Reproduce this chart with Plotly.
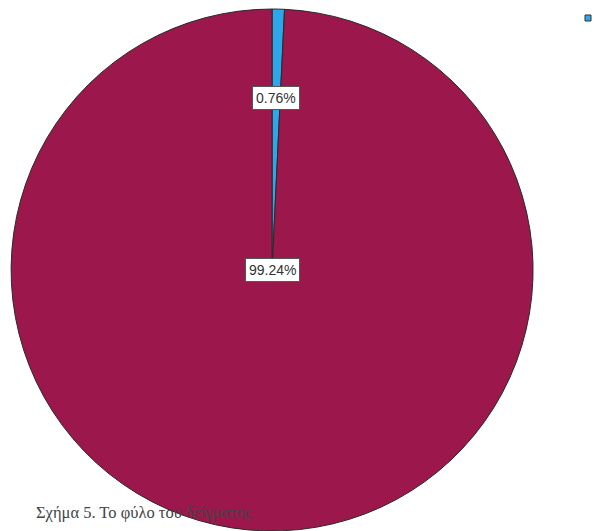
import math
import plotly.graph_objects as go

# Data
categories = ["Άνδρας", "Γυναίκα"]
values = [0.76, 99.24]
slice_colors = ["#2ea6ea", "#9c174b"]
caption = "Σχήμα 5. Το φύλο του δείγματος"

W, H = 608, 531
# pie domain (paper)
dom_x = [0.018, 0.877]
dom_y = [0.0, 0.983]
label_radius_frac = [0.66, 0.0]

fig = go.Figure(go.Pie(
    labels=categories,
    values=values,
    sort=False,
    direction="clockwise",
    rotation=0,
    textinfo="none",
    hoverinfo="label+percent",
    marker=dict(colors=slice_colors, line=dict(color="#2a2a2a", width=1)),
    domain=dict(x=dom_x, y=dom_y),
    showlegend=False,
))

# compute label positions from data
cx = (dom_x[0] + dom_x[1]) / 2
cy = (dom_y[0] + dom_y[1]) / 2
R = min((dom_x[1] - dom_x[0]) * W, (dom_y[1] - dom_y[0]) * H) / 2
total = sum(values)
cum = 0
annotations = []
for v, rf in zip(values, label_radius_frac):
    mid = (cum + v / 2) / total * 2 * math.pi
    cum += v
    r = rf * R
    x = cx + r * math.sin(mid) / W
    y = cy + r * math.cos(mid) / H
    annotations.append(dict(
        x=x, y=y, xref="paper", yref="paper",
        xanchor="center", yanchor="middle",
        text=f"{v:.2f}%", showarrow=False,
        font=dict(family="Liberation Sans, Arial, sans-serif", size=14, color="#333333"),
        bgcolor="white", bordercolor="#555555", borderwidth=1, borderpad=3,
    ))

annotations.append(dict(
    x=34 / W, y=1 - 512 / H, xref="paper", yref="paper",
    xanchor="left", yanchor="middle",
    text=caption, showarrow=False,
    font=dict(family="Liberation Serif, Times New Roman, serif", size=16.5, color="#444444"),
))

fig.update_layout(
    width=W, height=H,
    margin=dict(l=0, r=0, t=0, b=0),
    paper_bgcolor="white",
    plot_bgcolor="white",
    annotations=annotations,
    shapes=[dict(
        type="rect", xref="paper", yref="paper",
        x0=585 / W, x1=591 / W, y0=1 - 21 / H, y1=1 - 15 / H,
        fillcolor=slice_colors[0], line=dict(color="#333333", width=1),
    )],
)

fig.write_html(
    "out.html",
    config={"displayModeBar": False},
    post_script="document.body.style.margin='0px';document.body.style.padding='0px';",
)
